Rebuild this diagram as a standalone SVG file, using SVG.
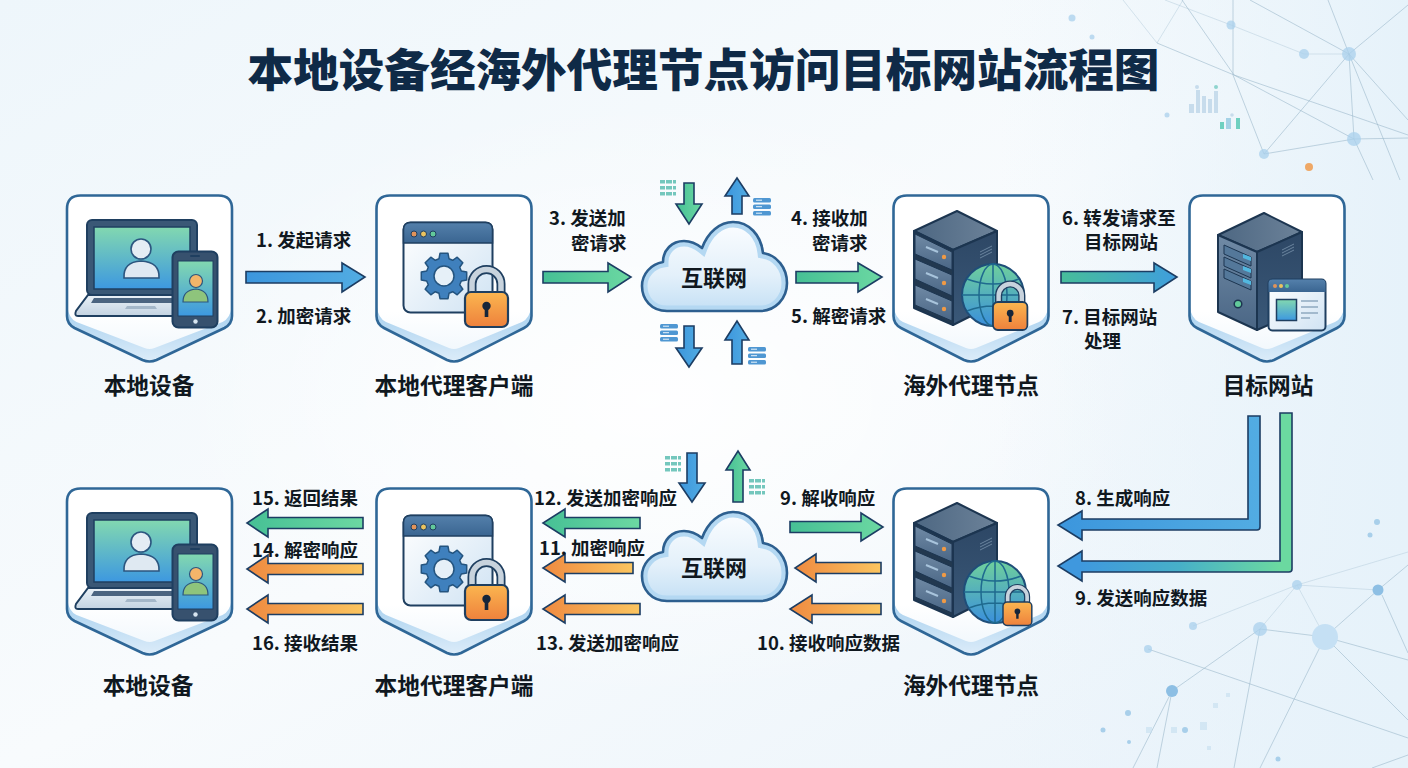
<svg xmlns="http://www.w3.org/2000/svg" width="1408" height="768" viewBox="0 0 1408 768">
<style>
text{font-family:"Noto Sans CJK SC","Liberation Sans",sans-serif}
.title{font-size:45.600px;font-weight:900;fill:#0f2a47;text-anchor:middle}
.node{font-size:22.700px;font-weight:700;fill:#10181f;text-anchor:middle}
.lab{font-size:18.500px;font-weight:700;fill:#10181f}
.cl{font-size:22px;font-weight:700;fill:#10181f;text-anchor:middle}
.ar{stroke:#1c3d63;stroke-width:1.600;stroke-linejoin:miter}
.blue{fill:url(#gBlue)}.green{fill:url(#gGreen)}.orange{fill:url(#gOrange)}.gb{fill:url(#gGB)}
.ln{stroke:#9db9cc;stroke-width:1;fill:none;opacity:.6}
.lf{stroke:#b9d0df;stroke-width:1;fill:none;opacity:.55}
.nd{fill:#a9d0ec;opacity:.75}
.sq{fill:#c5dff0;opacity:.6}
</style>
<defs>
<linearGradient id="bg" x1="0" y1="0" x2="1" y2="1"><stop offset="0" stop-color="#eef6fb"/><stop offset=".5" stop-color="#f8fbfd"/><stop offset="1" stop-color="#eaf3fa"/></linearGradient>
<radialGradient id="bgc" cx=".45" cy=".5" r=".5"><stop offset="0" stop-color="#fff" stop-opacity=".9"/><stop offset="1" stop-color="#fff" stop-opacity="0"/></radialGradient>
<linearGradient id="gTR" x1="0" y1="0" x2="1" y2="0"><stop offset="0" stop-color="#e6f2fa" stop-opacity="0"/><stop offset="1" stop-color="#e6f2fa"/></linearGradient>
<linearGradient id="gBlue" x1="0" y1="0" x2="1" y2="0"><stop offset="0" stop-color="#3c96dd"/><stop offset="1" stop-color="#52ace2"/></linearGradient>
<linearGradient id="gGreen" x1="0" y1="0" x2="1" y2="0"><stop offset="0" stop-color="#46c095"/><stop offset="1" stop-color="#6cd8a2"/></linearGradient>
<linearGradient id="gOrange" x1="0" y1="0" x2="1" y2="0"><stop offset="0" stop-color="#ef8a40"/><stop offset="1" stop-color="#fbc560"/></linearGradient>
<linearGradient id="gGB" x1="0" y1="0" x2="1" y2="0"><stop offset="0" stop-color="#47bd9a"/><stop offset="1" stop-color="#3f9ede"/></linearGradient>
<linearGradient id="gElbow" gradientUnits="userSpaceOnUse" x1="1080" y1="0" x2="1280" y2="0"><stop offset="0" stop-color="#3f98de"/><stop offset=".5" stop-color="#47b0c8"/><stop offset="1" stop-color="#6bd9a0"/></linearGradient>
<linearGradient id="gV" x1="0" y1="0" x2="0" y2="1"><stop offset="0" stop-color="#fff"/><stop offset=".7" stop-color="#fff"/><stop offset="1" stop-color="#eef6fc"/></linearGradient>
<linearGradient id="gCres" x1="0" y1="0" x2="0" y2="1"><stop offset="0" stop-color="#a5cfee"/><stop offset="1" stop-color="#dcecf9"/></linearGradient>
<linearGradient id="gScreen" x1="0" y1="0" x2="0" y2="1"><stop offset="0" stop-color="#82d8b0"/><stop offset="1" stop-color="#3d98e0"/></linearGradient>
<linearGradient id="gBase" x1="0" y1="0" x2="0" y2="1"><stop offset="0" stop-color="#eaf1f7"/><stop offset="1" stop-color="#c3d3e2"/></linearGradient>
<linearGradient id="gTitleBar" x1="0" y1="0" x2="0" y2="1"><stop offset="0" stop-color="#5480ab"/><stop offset="1" stop-color="#3a6591"/></linearGradient>
<linearGradient id="gWin" x1="0" y1="0" x2="1" y2="1"><stop offset="0" stop-color="#fff"/><stop offset="1" stop-color="#d0e3f3"/></linearGradient>
<linearGradient id="gLock" x1="0" y1="0" x2="0" y2="1"><stop offset="0" stop-color="#fbb650"/><stop offset="1" stop-color="#ee813c"/></linearGradient>
<linearGradient id="gTop" x1="0" y1="0" x2="1" y2="0"><stop offset="0" stop-color="#4d6782"/><stop offset="1" stop-color="#6c8299"/></linearGradient>
<linearGradient id="gLeft" x1="0" y1="0" x2="0" y2="1"><stop offset="0" stop-color="#708aa5"/><stop offset="1" stop-color="#4a6685"/></linearGradient>
<linearGradient id="gRight" x1="0" y1="0" x2="0" y2="1"><stop offset="0" stop-color="#2d4765"/><stop offset="1" stop-color="#3a5878"/></linearGradient>
<linearGradient id="gGlobe" x1="0" y1="0" x2="0" y2="1"><stop offset="0" stop-color="#6fd09c"/><stop offset="1" stop-color="#3a8fdc"/></linearGradient>
<linearGradient id="gCloud" x1="0" y1="0" x2="0" y2="1"><stop offset="0" stop-color="#fbfdff"/><stop offset=".6" stop-color="#e3f0fa"/><stop offset="1" stop-color="#c4e0f5"/></linearGradient>
<clipPath id="cloudClip"><path d="M667,311C651,311 642,299 642,286C642,274 651,264 663,262C663,250 672,241 684,241C691,241 697,244 702,248C708,232 720,222 733,222C749,222 761,235 763,253C777,255 787,268 787,283C787,299 775,311 760,311Z"/></clipPath>
<g id="shieldW"><path d="M15,1.500H153Q166.500,1.500 166.500,15V122Q166.500,130 159,134L91,166Q84,169 77,166L9,134Q1.500,130 1.500,122V15Q1.500,1.500 15,1.500Z" fill="url(#gV)"/><path d="M2,113Q3,124 11,128L79,154Q84,156 89,154L157,128Q165,124 166,113V122Q166,130 159,134L91,166Q84,169 77,166L9,134Q2,130 2,122Z" fill="url(#gCres)"/><path d="M15,1.500H153Q166.500,1.500 166.500,15V122Q166.500,130 159,134L91,166Q84,169 77,166L9,134Q1.500,130 1.500,122V15Q1.500,1.500 15,1.500Z" fill="none" stroke="#2f6797" stroke-width="2.600"/></g>
<g id="shieldN"><path d="M15,1.500H143Q156.500,1.500 156.500,15V122Q156.500,130 149,134L86,166Q79,169 72,166L9,134Q1.500,130 1.500,122V15Q1.500,1.500 15,1.500Z" fill="url(#gV)"/><path d="M2,113Q3,124 11,128L74,154Q79,156 84,154L147,128Q155,124 156,113V122Q156,130 149,134L86,166Q79,169 72,166L9,134Q2,130 2,122Z" fill="url(#gCres)"/><path d="M15,1.500H143Q156.500,1.500 156.500,15V122Q156.500,130 149,134L86,166Q79,169 72,166L9,134Q1.500,130 1.500,122V15Q1.500,1.500 15,1.500Z" fill="none" stroke="#2f6797" stroke-width="2.600"/></g>
<g id="devices">
<rect x="87" y="220" width="110" height="75" rx="5" fill="#3a5876" stroke="#1f3f60" stroke-width="2"/>
<rect x="94" y="227" width="96" height="62" fill="url(#gScreen)" stroke="#1f3f60" stroke-width="1.500"/>
<circle cx="141" cy="249" r="10" fill="#e4edf4" stroke="#2c567f" stroke-width="1.600"/>
<path d="M124,278Q123,262 141,261Q160,262 159,278Z" fill="#dfe9f2" stroke="#2c567f" stroke-width="1.600"/>
<path d="M88,295H195L205,316H78Q74,316 76,311Z" fill="url(#gBase)" stroke="#1f3f60" stroke-width="2"/>
<path d="M94,298H175V303H91Z" fill="#4b6480"/>
<path d="M127,306H155L157,309H125Z" fill="#a4b7c9"/>
<rect x="172.500" y="251.500" width="45" height="76" rx="6" fill="#37516e" stroke="#1f3f60" stroke-width="2"/>
<rect x="178" y="261" width="35" height="55" fill="url(#gScreen)" stroke="#1f3f60" stroke-width="1"/>
<rect x="190" y="255" width="10" height="2" rx="1" fill="#1f3f60"/>
<circle cx="195.500" cy="321.500" r="2.200" fill="#d7e5f0"/>
<circle cx="196" cy="281" r="6.500" fill="#f3b56a" stroke="#2c567f" stroke-width="1.200"/>
<path d="M183,302Q183,290 196,289Q208,290 208,302Z" fill="#8ec47c" stroke="#2c567f" stroke-width="1.200"/>
</g>
<g id="lock">
<path d="M7,2V-8A14.500,14.500 0 0 1 36,-8V2" fill="none" stroke="#1f3f60" stroke-width="9"/>
<path d="M7,2V-8A14.500,14.500 0 0 1 36,-8V2" fill="none" stroke="#c8d3dd" stroke-width="5.500"/>
<rect x="0" y="0" width="43" height="35" rx="6" fill="url(#gLock)" stroke="#1f3f60" stroke-width="2.200"/>
<circle cx="21.500" cy="14" r="4.200" fill="#16263a"/><rect x="19.700" y="15" width="3.600" height="10" fill="#16263a"/>
</g>
<g id="client">
<rect x="403.500" y="222.500" width="89" height="90" rx="7" fill="url(#gWin)" stroke="#1f3f60" stroke-width="2"/>
<path d="M403.500,243V229.500Q403.500,222.500 410.500,222.500H485.500Q492.500,222.500 492.500,229.500V243Z" fill="url(#gTitleBar)" stroke="#1f3f60" stroke-width="1.500"/>
<circle cx="414" cy="234" r="3" fill="#e0935a" stroke="#1f3f60"/><circle cx="423.500" cy="234" r="3" fill="#ecc35e" stroke="#1f3f60"/><circle cx="433" cy="234" r="3" fill="#62c99a" stroke="#1f3f60"/>
<g transform="translate(444,276)"><polygon points="17.300,-5 22.700,-4 22.700,4 17.300,5 15.700,8.700 18.800,13.200 13.200,18.800 8.700,15.700 5,17.300 4,22.700 -4,22.700 -5,17.300 -8.700,15.700 -13.200,18.800 -18.800,13.200 -15.700,8.700 -17.300,5 -22.700,4 -22.700,-4 -17.300,-5 -15.700,-8.700 -18.800,-13.200 -13.200,-18.800 -8.700,-15.700 -5,-17.300 -4,-22.700 4,-22.700 5,-17.300 8.700,-15.700 13.200,-18.800 18.800,-13.200 15.700,-8.700" fill="#3f80bd" stroke="#24547f" stroke-width="1.500" stroke-linejoin="round"/><circle r="10" fill="#e6f0f8" stroke="#24547f" stroke-width="1.500"/></g>
<use href="#lock" transform="translate(465,292)"/>
</g>
<g id="server">
<path d="M957,211L997,231L953,250L914,231Z" fill="url(#gTop)" stroke="#1c3550" stroke-width="2" stroke-linejoin="round"/>
<path d="M953,250L997,231V303L953,325Z" fill="url(#gRight)" stroke="#1c3550" stroke-width="2" stroke-linejoin="round"/>
<path d="M914,231L953,250V325L914,308Z" fill="#22384f" stroke="#1c3550" stroke-width="2" stroke-linejoin="round"/>
<path d="M915,234L952,252V270L915,254Z" fill="url(#gLeft)" stroke="#1c3550"/>
<path d="M915,259L952,275V296L915,279Z" fill="url(#gLeft)" stroke="#1c3550"/>
<path d="M915,285L952,301V321L915,305Z" fill="url(#gLeft)" stroke="#1c3550"/>
<g fill="#f09a45"><circle cx="944" cy="257" r="2.200"/><circle cx="944" cy="283" r="2.200"/><circle cx="944" cy="309" r="2.200"/></g>
<path d="M926,247L938,252M926,273L938,278M926,299L938,304" stroke="#a8c4dc" stroke-width="2"/>
<path d="M980,252L992,246M980,255L992,249M980,258L992,252" stroke="#6a849e" stroke-width="1"/>
</g>
<g id="globe">
<circle r="31" fill="url(#gGlobe)" stroke="#1f4e79" stroke-width="2"/>
<g fill="none" stroke="#1f6a8f" stroke-width="1.500"><ellipse rx="14" ry="31"/><path d="M0,-31V31M-31,0H31M-26,-16Q0,-6 26,-16M-26,16Q0,6 26,16"/></g>
</g>
<g id="target">
<path d="M1264,213L1302,232L1257,252L1218,235Z" fill="url(#gTop)" stroke="#1c3550" stroke-width="2" stroke-linejoin="round"/>
<path d="M1257,252L1302,232V310L1257,330Z" fill="url(#gRight)" stroke="#1c3550" stroke-width="2" stroke-linejoin="round"/>
<path d="M1218,235L1257,252V330L1218,312Z" fill="url(#gLeft)" stroke="#1c3550" stroke-width="2" stroke-linejoin="round"/>
<path d="M1224,245L1251,257V266L1224,254ZM1224,257L1251,269V278L1224,266ZM1224,269L1251,281V290L1224,278Z" fill="#54789a" stroke="#1c3550"/>
<path d="M1243,254L1251,257V261L1243,258ZM1243,266L1251,269V273L1243,270ZM1243,278L1251,281V285L1243,282Z" fill="#52b8e0"/>
<circle cx="1238" cy="304" r="3.800" fill="#62c99a" stroke="#1c3550" stroke-width="1.500"/>
<path d="M1282,250L1294,244M1282,253L1294,247M1282,256L1294,250" stroke="#6a849e"/>
<rect x="1268.500" y="279.500" width="57" height="51" rx="4" fill="url(#gWin)" stroke="#1f3f60" stroke-width="2"/>
<path d="M1268.500,292V283.500Q1268.500,279.500 1272.500,279.500H1321.500Q1325.500,279.500 1325.500,283.500V292Z" fill="url(#gTitleBar)"/>
<circle cx="1275" cy="286" r="2" fill="#e0935a"/><circle cx="1281" cy="286" r="2" fill="#ecc35e"/><circle cx="1287" cy="286" r="2" fill="#62c99a"/>
<rect x="1276.500" y="299.500" width="20" height="21" fill="url(#gScreen)" stroke="#1f3f60" stroke-width="1.500"/>
<path d="M1301,301H1318M1301,307H1318M1301,313H1318M1301,318H1310" stroke="#8fa9c0" stroke-width="1.500"/>
</g>
<g id="cloud">
<path d="M667,311C651,311 642,299 642,286C642,274 651,264 663,262C663,250 672,241 684,241C691,241 697,244 702,248C708,232 720,222 733,222C749,222 761,235 763,253C777,255 787,268 787,283C787,299 775,311 760,311Z" fill="url(#gCloud)"/>
<path clip-path="url(#cloudClip)" d="M667,311C651,311 642,299 642,286C642,274 651,264 663,262C663,250 672,241 684,241C691,241 697,244 702,248C708,232 720,222 733,222C749,222 761,235 763,253C777,255 787,268 787,283C787,299 775,311 760,311Z" fill="none" stroke="#b4d8f2" stroke-width="11"/>
<path d="M667,311C651,311 642,299 642,286C642,274 651,264 663,262C663,250 672,241 684,241C691,241 697,244 702,248C708,232 720,222 733,222C749,222 761,235 763,253C777,255 787,268 787,283C787,299 775,311 760,311Z" fill="none" stroke="#2d5f8f" stroke-width="2.600" stroke-linejoin="round"/>
</g>
<g id="rackB"><g fill="#4f97d2"><rect width="18" height="4.500" rx="1.500"/><rect y="6.500" width="18" height="4.500" rx="1.500"/><rect y="13" width="18" height="4.500" rx="1.500"/></g><path d="M3,2.200H9M3,8.700H9M3,15.200H9" stroke="#e8f3fb" stroke-width="1"/></g>
<g id="rackT"><g fill="#74c7bd"><rect width="5" height="3.500"/><rect x="6" width="6" height="3.500"/><rect x="13" width="3" height="3.500"/><rect y="6" width="5" height="3.500"/><rect x="6" y="6" width="6" height="3.500"/><rect x="13" y="6" width="3" height="3.500"/><rect y="12" width="5" height="3.500"/><rect x="6" y="12" width="6" height="3.500"/><rect x="13" y="12" width="3" height="3.500"/></g></g>
</defs>
<rect width="1408" height="768" fill="url(#bg)"/>
<rect x="200" y="100" width="1000" height="600" fill="url(#bgc)"/>
<rect x="1000" y="0" width="408" height="768" fill="url(#gTR)"/>
<g id="background-network">
<path class="lf" d="M1123,0L1157,43L1183,0M1165,0L1231,25L1304,54L1349,54"/>
<path class="ln" d="M1157,43L1234,75L1408,135M1182,0L1234,75L1354,139M1233,0V75L1264,154L1354,139L1408,138M1250,0L1349,54L1328,0M1349,54L1408,5M1349,54L1264,154M1349,54L1354,139L1373,180M1349,54L1408,120M1349,54L1400,180"/>
<circle class="nd" cx="1231" cy="25" r="4.500"/><circle class="nd" cx="1304" cy="54" r="5"/><circle class="nd" cx="1349" cy="54" r="7"/><circle class="nd" cx="1354" cy="139" r="7"/><circle class="nd" cx="1264" cy="154" r="5"/>
<circle class="nd" cx="1072" cy="18" r="3.500"/><circle class="nd" cx="1092" cy="37" r="2.500"/>
<circle cx="1309" cy="167" r="4" fill="#efa866"/><circle class="nd" cx="1167" cy="115" r="2.500"/>
<g fill="#c7dcec"><rect x="1189" y="104" width="5" height="9"/><rect x="1196" y="90" width="4" height="23"/><rect x="1202" y="96" width="4" height="17"/><rect x="1208" y="99" width="4" height="14"/><rect x="1214" y="91" width="4" height="22"/><circle cx="1197" cy="87" r="2"/></g>
<circle cx="1216" cy="87" r="2" fill="#8ed4ce"/>
<g fill="#6fd0c0"><rect x="1220" y="122" width="4" height="7"/><rect x="1236" y="118" width="4" height="11"/></g><rect x="1226" y="118" width="5" height="11" fill="#a5d2e6"/><circle cx="1232" cy="115" r="1.800" fill="#c7dcec"/>
<path class="lf" d="M1193,626L1297,585L1408,552M1297,585L1378,590M1297,585L1325,637M1297,585L1260,629"/>
<path class="ln" d="M1260,629L1325,637L1378,590L1408,565M1382,595L1408,653M1325,637L1408,660M1325,637L1408,720M1325,637L1260,768M1260,629L1234,768M1260,629L1172,691L1133,768M1172,691L1157,768M1148,649L1408,738M1372,768L1408,755"/>
<circle class="nd" cx="1297" cy="585" r="5" opacity=".6"/><circle cx="1378" cy="590" r="5.500" fill="#8dbfe4"/><circle cx="1325" cy="637" r="13" fill="#c5e0f4"/><circle class="nd" cx="1260" cy="629" r="7"/><circle class="nd" cx="1193" cy="626" r="4"/><circle class="nd" cx="1148" cy="649" r="4"/><circle cx="1172" cy="691" r="6" fill="#8dbfe4"/>
<g fill="#a8cfea"><circle cx="1377" cy="522" r="3"/><circle cx="1370" cy="535" r="2.500"/><circle cx="1128" cy="713" r="3"/><circle cx="1103" cy="730" r="2.500"/><circle cx="1185" cy="730" r="3"/><circle cx="1129" cy="742" r="2"/><circle cx="1278" cy="759" r="2.500"/></g>
<g class="sq"><rect x="1226" y="693" width="4" height="4"/><rect x="1213" y="703" width="5" height="5"/><rect x="1200" y="722" width="7" height="8"/><rect x="1171" y="727" width="6" height="6"/><rect x="1146" y="727" width="6" height="6"/><rect x="1207" y="746" width="4" height="4"/></g>
</g>
<text class="title" x="703.500" y="87">本地设备经海外代理节点访问目标网站流程图</text>
<g id="connectors">
<path class="ar blue" d="M246,271.500H342V263L365,277L342,292V283H246Z"/>
<path class="ar green" d="M543,271.500H608V263L631,277L608,292V283H543Z"/>
<path class="ar green" d="M796,271.500H858V263L882,277L858,292V283H796Z"/>
<path class="ar gb" d="M1061,271.500H1154V263L1177,277L1154,292V283H1061Z"/>
<path class="ar green" d="M684,183H694V204H702L689,224L676,204H684Z"/>
<path class="ar blue" d="M732,214V196H725L737,178L749,196H742V214Z"/>
<path class="ar blue" d="M684,326H694V348H702L689,367L676,348H684Z"/>
<path class="ar blue" d="M732,364V340H725L737,321L749,340H742V364Z"/>
<path class="ar blue" d="M687,453H697V483H705L692,502L679,483H687Z"/>
<path class="ar green" d="M733,502V470H726L738,451L750,470H743V502Z"/>
<path class="ar green" d="M790,521.500H861V513L883,527L861,541V532.500H790Z"/>
<path class="ar orange" d="M881,562.500H816V554L795,568L816,582V573.500H881Z"/>
<path class="ar orange" d="M881,603.500H812V595L790,609L812,623V614.500H881Z"/>
<path class="ar green" d="M640,517.500H565V509L543,523L565,537V528.500H640Z"/>
<path class="ar orange" d="M633,562.500H565V554L543,568L565,582V573.500H633Z"/>
<path class="ar orange" d="M640,603.500H565V595L543,609L565,623V614.500H640Z"/>
<path class="ar green" d="M363,517.500H268V509L247,523L268,537V528.500H363Z"/>
<path class="ar orange" d="M363,563.500H268V555L247,569L268,583V574.500H363Z"/>
<path class="ar orange" d="M363,603.500H268V595L247,609L268,623V614.500H363Z"/>
<path class="ar blue" d="M1248,416H1260V527Q1260,530 1257,530H1082V540L1058,525L1082,511V519H1248Z"/>
<path class="ar" fill="url(#gElbow)" d="M1280,413H1292V569Q1292,572 1289,572H1082V581L1058,566L1082,551V561H1280Z"/>
<use href="#rackT" transform="translate(660,180)"/>
<use href="#rackB" transform="translate(753,198)"/>
<use href="#rackB" transform="translate(660,324)"/>
<use href="#rackB" transform="translate(748,347)"/>
<use href="#rackT" transform="translate(665,456)"/>
<use href="#rackT" transform="translate(749,479)"/>
</g>
<g id="node-local-device-1"><use href="#shieldW" x="65.500" y="194"/><use href="#devices"/><text class="node" x="149" y="394">本地设备</text></g>
<g id="node-client-1"><use href="#shieldN" x="375" y="194"/><use href="#client"/><text class="node" x="454" y="394">本地代理客户端</text></g>
<g id="node-internet-1"><use href="#cloud"/><text class="cl" x="714" y="286">互联网</text></g>
<g id="node-proxy-1"><use href="#shieldN" x="892" y="194"/><use href="#server"/><use href="#globe" transform="translate(993,295)"/><use href="#lock" transform="translate(993,302) scale(.8)"/><text class="node" x="971" y="394">海外代理节点</text></g>
<g id="node-target"><use href="#shieldN" x="1188" y="194"/><use href="#target"/><text class="node" x="1268" y="394">目标网站</text></g>
<g id="node-local-device-2"><use href="#shieldW" x="65.500" y="487"/><use href="#devices" y="293"/><text class="node" x="148" y="694">本地设备</text></g>
<g id="node-client-2"><use href="#shieldN" x="375" y="487"/><use href="#client" y="293"/><text class="node" x="454" y="694">本地代理客户端</text></g>
<g id="node-internet-2"><use href="#cloud" y="290"/><text class="cl" x="714" y="576">互联网</text></g>
<g id="node-proxy-2"><use href="#shieldN" x="892" y="487"/><use href="#server" y="292"/><use href="#globe" transform="translate(995,592)"/><use href="#lock" transform="translate(1003,602) scale(.67)"/><text class="node" x="971" y="694">海外代理节点</text></g>
<g id="labels">
<text class="lab" x="256" y="247">1. 发起请求</text>
<text class="lab" x="256" y="323">2. 加密请求</text>
<text class="lab" x="549" y="225">3. 发送加</text>
<text class="lab" x="571" y="250">密请求</text>
<text class="lab" x="791" y="225">4. 接收加</text>
<text class="lab" x="812" y="250">密请求</text>
<text class="lab" x="791" y="323">5. 解密请求</text>
<text class="lab" x="1062" y="225">6. 转发请求至</text>
<text class="lab" x="1084" y="249">目标网站</text>
<text class="lab" x="1062" y="324">7. 目标网站</text>
<text class="lab" x="1084" y="348">处理</text>
<text class="lab" x="1075" y="505">8. 生成响应</text>
<text class="lab" x="1075" y="605">9. 发送响应数据</text>
<text class="lab" x="534" y="505">12. 发送加密响应</text>
<text class="lab" x="539" y="555">11. 加密响应</text>
<text class="lab" x="536" y="650">13. 发送加密响应</text>
<text class="lab" x="780" y="505">9. 解收响应</text>
<text class="lab" x="757" y="650">10. 接收响应数据</text>
<text class="lab" x="252" y="505">15. 返回结果</text>
<text class="lab" x="252" y="557">14. 解密响应</text>
<text class="lab" x="252" y="650">16. 接收结果</text>
</g>
</svg>
